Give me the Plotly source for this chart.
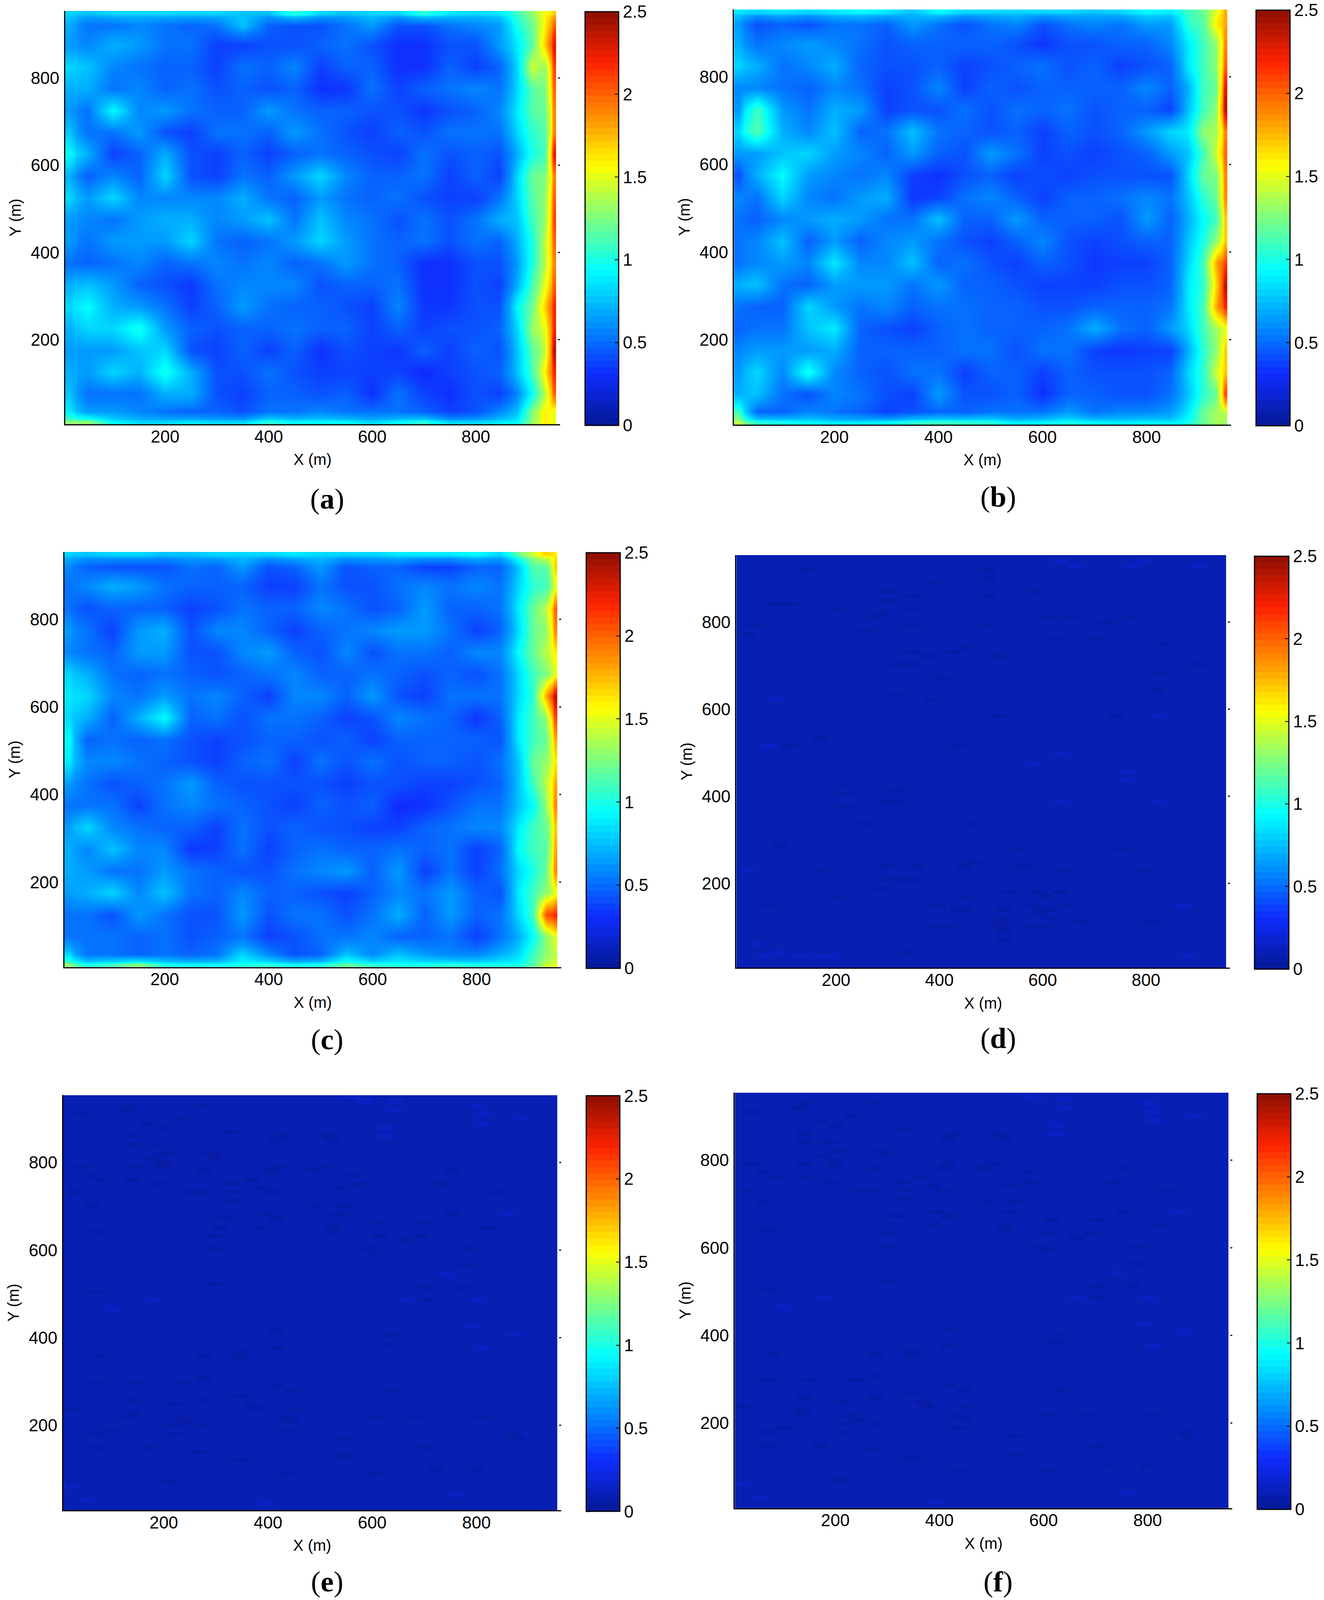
import numpy as np
import plotly.graph_objects as go

# grid of the smooth maps (a, b, c), cell edges in metres, top row first
x_edges = [7, 28, 75, 125, 175, 225, 275, 325, 375, 425, 475, 525, 575, 625, 675, 725, 775, 825, 865, 895, 922, 945, 955]
y_edges = [954, 940, 900, 850, 800, 750, 700, 650, 600, 550, 500, 450, 400, 350, 300, 250, 200, 150, 100, 52, 18, 6]

z_a = [
    [.82, .76, .82, .82, .82, .82, .82, .76, .76, 1.05, .82, .76, .82, .82, 1.05, .88, .82, .88, 1.1, 1.3, 1.55, 1.7],
    [.70, .52, .52, .58, .52, .47, .52, .76, .47, .42, .42, .52, .64, .42, .42, .52, .58, .64, 1.0, 1.2, 1.6, 2.0],
    [.64, .58, .70, .64, .52, .52, .37, .37, .42, .42, .47, .52, .42, .32, .32, .42, .42, .64, .88, 1.15, 1.7, 2.3],
    [.82, .76, .58, .52, .47, .47, .37, .52, .47, .58, .37, .47, .47, .32, .32, .47, .37, .47, .82, 1.45, 1.3, 2.1],
    [.70, .70, .52, .58, .47, .52, .42, .47, .42, .47, .32, .34, .52, .37, .47, .52, .58, .52, .82, 1.15, 1.25, 2.0],
    [.64, .52, .94, .58, .64, .52, .47, .47, .64, .52, .47, .47, .42, .42, .34, .42, .47, .58, .88, 1.15, 1.2, 1.9],
    [.76, .52, .52, .64, .42, .37, .52, .52, .47, .64, .52, .42, .37, .47, .42, .52, .52, .52, .82, 1.05, 1.15, 1.9],
    [.94, .70, .37, .47, .70, .42, .37, .47, .37, .47, .52, .47, .42, .37, .52, .42, .47, .42, .70, 1.0, 1.1, 2.3],
    [.70, .47, .58, .47, .82, .42, .37, .52, .47, .64, .82, .58, .47, .47, .52, .37, .47, .37, .82, 1.2, 1.25, 1.9],
    [.82, .64, .82, .58, .58, .58, .58, .70, .52, .47, .64, .52, .47, .52, .42, .37, .37, .52, .82, 1.15, 1.3, 2.0],
    [.64, .58, .52, .64, .70, .70, .58, .64, .76, .52, .76, .58, .52, .42, .52, .42, .52, .70, .76, 1.1, 1.3, 2.1],
    [.64, .52, .64, .64, .64, .82, .52, .47, .52, .64, .82, .64, .52, .47, .52, .42, .52, .47, .70, 1.0, 1.4, 2.0],
    [.52, .47, .52, .58, .47, .52, .58, .52, .58, .47, .52, .64, .52, .47, .32, .32, .42, .42, .64, 1.0, 1.4, 1.9],
    [.70, .76, .64, .47, .42, .34, .52, .58, .58, .58, .42, .47, .47, .52, .32, .32, .42, .37, .70, 1.1, 1.5, 2.0],
    [.82, .94, .70, .64, .52, .37, .47, .64, .52, .47, .47, .42, .37, .58, .34, .34, .42, .42, .94, 1.2, 1.7, 2.2],
    [.70, .82, .82, 1.0, .64, .47, .42, .47, .47, .52, .47, .47, .37, .47, .37, .42, .42, .47, .82, 1.3, 1.5, 2.2],
    [.64, .64, .64, .76, .82, .42, .37, .47, .37, .47, .32, .42, .37, .34, .47, .37, .47, .42, .76, 1.15, 1.4, 2.4],
    [.70, .64, .82, .70, 1.0, .70, .42, .42, .52, .42, .37, .37, .37, .37, .30, .37, .42, .47, .76, 1.1, 1.6, 2.2],
    [.76, .52, .52, .52, .70, .70, .42, .37, .47, .47, .42, .47, .32, .52, .37, .32, .42, .37, .58, .94, 1.4, 2.0],
    [.88, .64, .64, .58, .52, .47, .47, .42, .52, .52, .58, .52, .52, .52, .47, .37, .42, .58, .76, 1.25, 1.6, 1.5],
    [1.3, 1.3, .94, .82, .82, .88, .82, .82, 1.05, .94, .94, .94, .82, .94, 1.05, .82, .82, .88, .94, 1.3, 1.6, 1.5],
]

z_b = [
    [.88, .82, .88, .82, .88, .94, .88, .76, .94, .82, .82, .82, .82, .82, .76, .82, .94, .88, 1.1, 1.2, 1.5, 1.8],
    [.64, .42, .47, .42, .52, .52, .47, .64, .52, .42, .52, .58, .42, .52, .58, .52, .64, .64, 1.05, 1.15, 1.6, 1.8],
    [.70, .52, .58, .64, .58, .52, .42, .47, .47, .47, .47, .42, .34, .42, .42, .47, .47, .58, .88, 1.1, 1.3, 1.9],
    [.82, .70, .52, .58, .70, .47, .42, .42, .47, .37, .42, .47, .52, .42, .47, .37, .42, .47, .88, 1.1, 1.3, 2.0],
    [.58, .58, .52, .47, .58, .52, .37, .42, .58, .37, .47, .42, .47, .47, .47, .47, .58, .47, .70, 1.1, 1.2, 2.3],
    [.64, 1.1, .64, .52, .70, .64, .37, .42, .42, .52, .42, .52, .47, .52, .42, .47, .47, .37, .76, 1.1, 1.3, 2.4],
    [.82, 1.15, .70, .58, .76, .47, .52, .76, .52, .47, .42, .47, .37, .47, .42, .47, .64, .82, .88, 1.3, 1.35, 1.9],
    [.64, .64, .76, .82, .64, .58, .47, .64, .47, .42, .64, .52, .37, .42, .37, .42, .47, .64, .76, 1.1, 1.45, 2.0],
    [.42, .70, .94, .64, .58, .52, .58, .37, .32, .42, .47, .37, .42, .37, .42, .42, .42, .42, .82, 1.2, 1.25, 1.9],
    [.58, .52, .82, .58, .52, .64, .70, .34, .37, .52, .58, .47, .37, .47, .47, .52, .58, .52, .76, 1.05, 1.2, 1.9],
    [.52, .47, .58, .64, .70, .64, .52, .52, .76, .47, .47, .64, .47, .47, .47, .42, .64, .47, .70, .94, 1.1, 1.7],
    [.52, .58, .76, .47, .64, .47, .58, .64, .52, .42, .37, .47, .58, .42, .37, .42, .47, .47, .76, 1.0, 1.3, 1.7],
    [.52, .58, .64, .58, .88, .58, .58, .76, .47, .52, .42, .37, .47, .42, .34, .37, .37, .47, .82, 1.1, 1.8, 2.1],
    [.70, .76, .52, .47, .64, .64, .64, .52, .64, .47, .47, .42, .37, .37, .37, .42, .42, .47, .88, 1.05, 1.65, 2.4],
    [.52, .47, .47, .82, .64, .52, .58, .47, .52, .52, .47, .47, .42, .42, .47, .47, .47, .52, .88, 1.1, 1.8, 2.2],
    [.47, .52, .52, .76, .88, .47, .42, .37, .47, .52, .47, .47, .47, .52, .70, .52, .47, .64, .82, 1.1, 1.35, 1.5],
    [.58, .64, .64, .64, .70, .47, .47, .47, .47, .52, .52, .42, .52, .52, .37, .34, .37, .37, .70, 1.05, 1.3, 1.7],
    [.64, .82, .58, 1.0, .58, .47, .42, .52, .52, .37, .47, .47, .37, .47, .42, .42, .42, .47, .82, 1.05, 1.45, 1.7],
    [.70, .76, .52, .42, .58, .52, .42, .37, .64, .42, .42, .47, .32, .47, .47, .42, .42, .52, .76, 1.05, 1.2, 2.1],
    [1.1, .47, .47, .58, .52, .47, .37, .42, .47, .47, .52, .52, .52, .64, .52, .58, .58, .64, .88, 1.2, 1.35, 1.4],
    [1.4, 1.05, 1.0, .94, .88, .88, .94, 1.05, 1.1, 1.05, 1.05, .88, .94, 1.0, .94, .88, .94, .88, 1.0, 1.2, 1.35, 1.3],
]

z_c = [
    [.82, .76, .82, .82, .76, .76, .82, .82, .82, .88, .82, .82, .82, .88, .88, .88, .94, .82, 1.2, 1.45, 1.7, 1.6],
    [.58, .47, .42, .42, .42, .52, .47, .64, .42, .47, .64, .42, .47, .47, .37, .37, .47, .47, .76, 1.15, 1.15, 1.7],
    [.52, .58, .70, .64, .52, .47, .47, .47, .37, .37, .52, .42, .42, .52, .58, .52, .58, .52, .82, 1.05, 1.1, 1.5],
    [.52, .42, .47, .47, .47, .37, .42, .52, .47, .47, .58, .52, .42, .47, .64, .47, .47, .52, .88, 1.2, 1.4, 2.0],
    [.64, .52, .37, .64, .70, .42, .58, .58, .47, .37, .47, .52, .58, .64, .64, .52, .37, .47, .82, 1.2, 1.3, 1.9],
    [.58, .52, .47, .64, .64, .42, .42, .58, .64, .47, .42, .58, .42, .52, .52, .47, .58, .58, .94, 1.2, 1.4, 1.6],
    [.82, .70, .52, .47, .52, .47, .42, .47, .52, .58, .47, .47, .52, .47, .42, .47, .42, .52, .82, 1.1, 1.25, 1.5],
    [.88, .82, .58, .52, .64, .52, .58, .47, .37, .58, .58, .47, .64, .42, .37, .52, .52, .52, .82, 1.05, 1.8, 2.4],
    [.82, .70, .47, .70, .94, .47, .52, .42, .52, .52, .47, .37, .42, .58, .52, .47, .34, .47, .88, 1.1, 1.3, 2.1],
    [.94, .47, .52, .47, .52, .42, .37, .42, .47, .47, .42, .47, .37, .47, .47, .47, .47, .42, .88, 1.1, 1.2, 1.8],
    [.88, .58, .58, .52, .47, .42, .37, .47, .52, .37, .52, .42, .52, .42, .47, .47, .42, .52, .76, 1.2, 1.3, 1.6],
    [.64, .52, .42, .47, .52, .64, .47, .42, .42, .42, .42, .37, .42, .42, .37, .37, .42, .47, .76, 1.1, 1.4, 1.8],
    [.52, .52, .52, .37, .52, .58, .52, .47, .42, .37, .47, .42, .47, .30, .32, .42, .52, .52, .76, .94, 1.3, 1.9],
    [.64, .82, .58, .52, .47, .47, .37, .52, .42, .47, .42, .42, .37, .37, .47, .52, .58, .58, .88, 1.1, 1.2, 1.7],
    [.70, .58, .76, .58, .58, .34, .37, .52, .37, .47, .52, .47, .47, .52, .47, .52, .37, .47, .94, 1.1, 1.15, 1.8],
    [.70, .64, .52, .52, .64, .52, .47, .42, .42, .52, .58, .64, .47, .64, .37, .52, .37, .52, .82, 1.0, 1.2, 1.9],
    [.64, .70, .82, .58, .76, .52, .47, .58, .47, .47, .42, .37, .47, .58, .52, .64, .47, .42, .88, 1.1, 1.3, 1.5],
    [.52, .52, .42, .64, .52, .42, .42, .64, .42, .52, .52, .42, .52, .70, .47, .64, .47, .52, .82, 1.1, 2.05, 2.2],
    [.52, .52, .52, .47, .52, .42, .47, .52, .37, .42, .52, .52, .58, .47, .47, .52, .37, .52, .70, .94, 1.3, 1.5],
    [.82, .52, .52, .47, .52, .47, .52, .82, .58, .42, .47, .76, .58, .76, .64, .58, .58, .70, .82, 1.1, 1.3, 1.4],
    [1.3, 1.0, 1.1, 1.3, 1.0, .94, .94, 1.0, 1.05, .94, 1.0, 1.2, 1.05, 1.0, 1.0, 1.05, 1.0, 1.0, 1.0, 1.15, 1.45, 1.5],
]

# flat maps (d, e, f): one level with darker and lighter streaks
base_flat = 0.09
dark_level = 0.05
light_level = 0.13

dark_d_x = [495, 499, 140, 303, 303, 352, 348, 385, 495, 580, 83, 108, 198, 287, 275, 263, 348, 38, 35, 491, 613, 658, 727, 776,
            628, 703, 829, 352, 377, 446, 426, 519, 320, 352, 902, 409, 821, 320, 385, 817, 511, 740, 169, 108, 434, 218, 218, 320,
            218, 320, 295, 466, 263, 87, 556, 748, 470, 295, 356, 445, 564, 165, 642, 801, 328, 307, 352, 287, 201, 532, 446, 597,
            638, 75, 401, 434, 528, 589, 646, 450, 524, 597, 809, 393, 418, 524, 601, 670, 524, 336, 605, 590, 610, 585, 530, 520, 615]
dark_d_y = [919, 900, 919, 873, 850, 858, 835, 887, 858, 867, 838, 842, 835, 819, 807, 780, 793, 788, 776, 790, 813, 811, 796, 807,
            759, 757, 748, 734, 723, 738, 727, 720, 707, 700, 703, 675, 682, 632, 621, 638, 588, 579, 530, 511, 511, 426, 410, 418,
            381, 383, 383, 337, 337, 291, 281, 276, 249, 235, 241, 241, 235, 227, 225, 225, 206, 206, 210, 187, 171, 174, 168, 183,
            175, 152, 152, 144, 144, 148, 152, 137, 121, 125, 106, 102, 98, 98, 102, 106, 71, 44, 165, 135, 115, 95, 85, 110, 140]
light_d_x = [638, 660, 793, 770, 896, 760, 760, 637, 582, 817, 630, 30, 80, 875, 67, 817, 60, 90, 130, 170, 190, 45, 880]
light_d_y = [935, 930, 935, 925, 931, 457, 440, 495, 475, 391, 391, 225, 622, 152, 511, 580, 35, 40, 30, 28, 30, 60, 30]

dark_e_x = [137, 129, 40, 169, 197, 233, 283, 141, 137, 194, 197, 197, 178, 214, 197, 287, 296, 323, 424, 416, 513, 525,
            40, 60, 80, 145, 145, 194, 283, 419, 403, 509, 481, 566, 757, 36, 250, 266, 327, 339, 371, 391, 403, 538, 574, 728, 846,
            327, 493, 550, 65, 396, 412, 534, 307, 315, 615, 708, 748, 817, 68, 392, 526, 530, 299, 619, 663, 696, 299, 603, 599,
            785, 781, 303, 708, 773, 70, 704, 416, 631, 412, 627, 343, 343, 279, 80, 283, 68, 149, 420, 448, 238, 631, 351, 145, 279,
            218, 372, 445, 376, 19, 137, 603, 133, 441, 680, 226, 242, 283, 218, 445, 809, 441, 68, 104, 218, 550, 874, 882,
            70, 165, 270, 347, 542, 708, 607, 720, 801, 441, 206]
dark_e_y = [927, 915, 908, 891, 883, 903, 931, 863, 839, 843, 823, 803, 815, 819, 791, 819, 811, 871, 859, 847, 859, 851,
            791, 775, 765, 791, 759, 751, 783, 794, 783, 795, 779, 773, 781, 732, 735, 732, 747, 732, 757, 743, 732, 737, 751, 751, 729,
            712, 703, 701, 698, 683, 675, 685, 657, 673, 662, 666, 679, 653, 647, 648, 652, 640, 632, 630, 624, 632, 608, 592, 604,
            600, 568, 527, 518, 515, 504, 481, 413, 405, 381, 382, 369, 353, 353, 353, 305, 297, 301, 285, 273, 293, 279, 265, 261, 261,
            251, 249, 241, 237, 236, 233, 221, 217, 221, 218, 214, 206, 198, 198, 206, 214, 190, 174, 186, 174, 170, 178, 167,
            145, 150, 138, 124, 128, 145, 90, 95, 99, 90, 69]
light_e_x = [566, 809, 800, 815, 647, 623, 890, 862, 740, 181, 100, 667, 801, 793, 870, 809, 23, 47, 396, 765, 640, 580, 625]
light_e_y = [945, 907, 925, 890, 919, 875, 895, 680, 540, 488, 469, 488, 485, 429, 401, 377, 62, 30, 22, 44, 935, 935, 860]

cbar_ticks = [0, 0.5, 1, 1.5, 2, 2.5]
cbar_labels = ["0", "0.5", "1", "1.5", "2", "2.5"]
axis_ticks = [200, 400, 600, 800]
captions = ["a", "b", "c", "d", "e", "f"]

# colours of the printed colormap
cmap_z = [0, .3125, .625, .9375, 1.25, 1.5625, 1.875, 2.1875, 2.5]
cmap_r = [5, 15, 0, 0, 125, 255, 255, 255, 140]
cmap_g = [25, 45, 150, 255, 255, 255, 140, 35, 15]
cmap_b = [150, 255, 255, 255, 130, 0, 0, 0, 0]


def stepped_scale(levels=64):
    # 64 flat levels like the bands in the original colorbar
    scale = []
    for i in range(levels):
        t = (i + 0.5) / levels * 2.5
        c = "rgb(%d,%d,%d)" % (np.interp(t, cmap_z, cmap_r), np.interp(t, cmap_z, cmap_g), np.interp(t, cmap_z, cmap_b))
        scale.append([i / levels, c])
        scale.append([(i + 1) / levels, c])
    return scale


smooth_scale = [[z / 2.5, "rgb(%d,%d,%d)" % (r, g, b)] for z, r, g, b in zip(cmap_z, cmap_r, cmap_g, cmap_b)]


def flat_map(dx, dy, lx, ly):
    # 96 x 96 cells of 10 m, each streak is three cells wide
    z = np.full((96, 96), base_flat)
    for xs, ys, level in ((dx, dy, dark_level), (lx, ly, light_level)):
        for x, y in zip(xs, ys):
            col = int((x - 7) / 9.875)
            row = int((y - 6) / 9.875)
            z[row, max(col - 1, 0):col + 2] = level
    return z.tolist()


flat_x = np.linspace(7, 955, 97).tolist()
flat_y = np.linspace(6, 954, 97).tolist()

z_d = flat_map(dark_d_x, dark_d_y, light_d_x, light_d_y)
z_e = flat_map(dark_e_x, dark_e_y, light_e_x, light_e_y)
z_f = flat_map(dark_e_x, dark_e_y, light_e_x, light_e_y)

W, H = 3390, 4560

# pixel boxes: plot left, axis end, top, bottom, bar left, bar right, bar top, bar bottom, caption x, caption y
boxes = [
    (167, 1435, 31, 1209, 1499, 1585, 33, 1212, 838, 1421),
    (1881, 3155, 27, 1210, 3219, 3306, 29, 1213, 2558, 1416),
    (165, 1438, 1573, 2756, 1502, 1589, 1575, 2759, 838, 2962),
    (1887, 3152, 1582, 2758, 3215, 3303, 1585, 2762, 2558, 2959),
    (162, 1438, 3121, 4304, 1502, 1588, 3123, 4308, 838, 4507),
    (1883, 3158, 3114, 4298, 3222, 3308, 3117, 4301, 2558, 4507),
]
maps = [z_a, z_b, z_c, z_d, z_e, z_f]

tick_font = dict(family="Liberation Sans", size=44, color="black")
title_font = dict(family="Liberation Sans", size=40, color="black")
bar_scale = stepped_scale()

fig = go.Figure()
shapes = []
annotations = []
layout_axes = {}

for i, (box, z) in enumerate(zip(boxes, maps)):
    left, right, top, bottom, cb_l, cb_r, cb_t, cb_b, cap_x, cap_y = box
    n = "" if i == 0 else str(i + 1)
    smooth = i < 3

    fig.add_trace(go.Heatmap(
        z=z,
        x=x_edges if smooth else flat_x,
        y=y_edges if smooth else flat_y,
        zsmooth="best" if smooth else False,
        zmin=0, zmax=2.5,
        colorscale=smooth_scale,
        showscale=False,
        xaxis="x" + n, yaxis="y" + n,
    ))
    # see-through trace that only carries the banded colorbar
    fig.add_trace(go.Heatmap(
        z=[[0, 2.5], [0, 2.5]],
        x=[7, 955], y=[6, 954],
        opacity=0, hoverinfo="skip",
        zmin=0, zmax=2.5,
        colorscale=bar_scale,
        xaxis="x" + n, yaxis="y" + n,
        colorbar=dict(
            x=cb_l / W, xanchor="left", xpad=0,
            y=1 - cb_t / H, yanchor="top", ypad=0,
            len=(cb_b - cb_t) / H, lenmode="fraction",
            thickness=cb_r - cb_l, thicknessmode="pixels",
            outlinecolor="black", outlinewidth=3,
            ticks="inside", ticklen=11, tickwidth=2, tickcolor="black",
            tickvals=cbar_ticks, ticktext=cbar_labels, tickfont=tick_font,
        ),
    ))

    layout_axes["xaxis" + n] = dict(
        domain=[left / W, right / W], range=[7, 962.5], anchor="y" + n,
        tickvals=axis_ticks, ticks="", showgrid=False, zeroline=False,
        showline=True, linecolor="black", linewidth=3,
        tickfont=tick_font, ticklabelstandoff=-9,
        title=dict(text="X (m)", font=title_font, standoff=22),
    )
    layout_axes["yaxis" + n] = dict(
        domain=[1 - bottom / H, 1 - top / H], range=[6, 954], anchor="x" + n,
        tickvals=axis_ticks, ticks="", showgrid=False, zeroline=False,
        showline=True, linecolor="black", linewidth=3,
        tickfont=tick_font, ticklabelstandoff=3,
        title=dict(text="Y (m)", font=title_font, standoff=13),
    )

    # small ticks the right axis leaves next to the image
    for t in axis_ticks:
        shapes.append(dict(type="line", xref="paper", yref="y" + n,
                           x0=(right - 5) / W, x1=right / W, y0=t, y1=t,
                           line=dict(color="black", width=3)))
    # the colorbar ticks on its left side
    for t in cbar_ticks:
        y_px = cb_b - (cb_b - cb_t) * t / 2.5
        shapes.append(dict(type="line", xref="paper", yref="paper",
                           x0=cb_l / W, x1=(cb_l + 11) / W,
                           y0=1 - y_px / H, y1=1 - y_px / H,
                           line=dict(color="black", width=2)))

    annotations.append(dict(
        text="(<b>%s</b>)" % captions[i], xref="paper", yref="paper",
        x=cap_x / W, y=1 - cap_y / H, xanchor="center", yanchor="middle",
        showarrow=False, font=dict(family="Liberation Serif", size=75, color="black"),
    ))

fig.update_layout(
    margin=dict(l=0, r=0, t=0, b=0),
    paper_bgcolor="white", plot_bgcolor="white",
    showlegend=False,
    shapes=shapes,
    annotations=annotations,
    **layout_axes,
)

fig.write_html("out.html", config=dict(displayModeBar=False, responsive=True),
               post_script="document.body.style.margin='0';window.dispatchEvent(new Event('resize'));")
